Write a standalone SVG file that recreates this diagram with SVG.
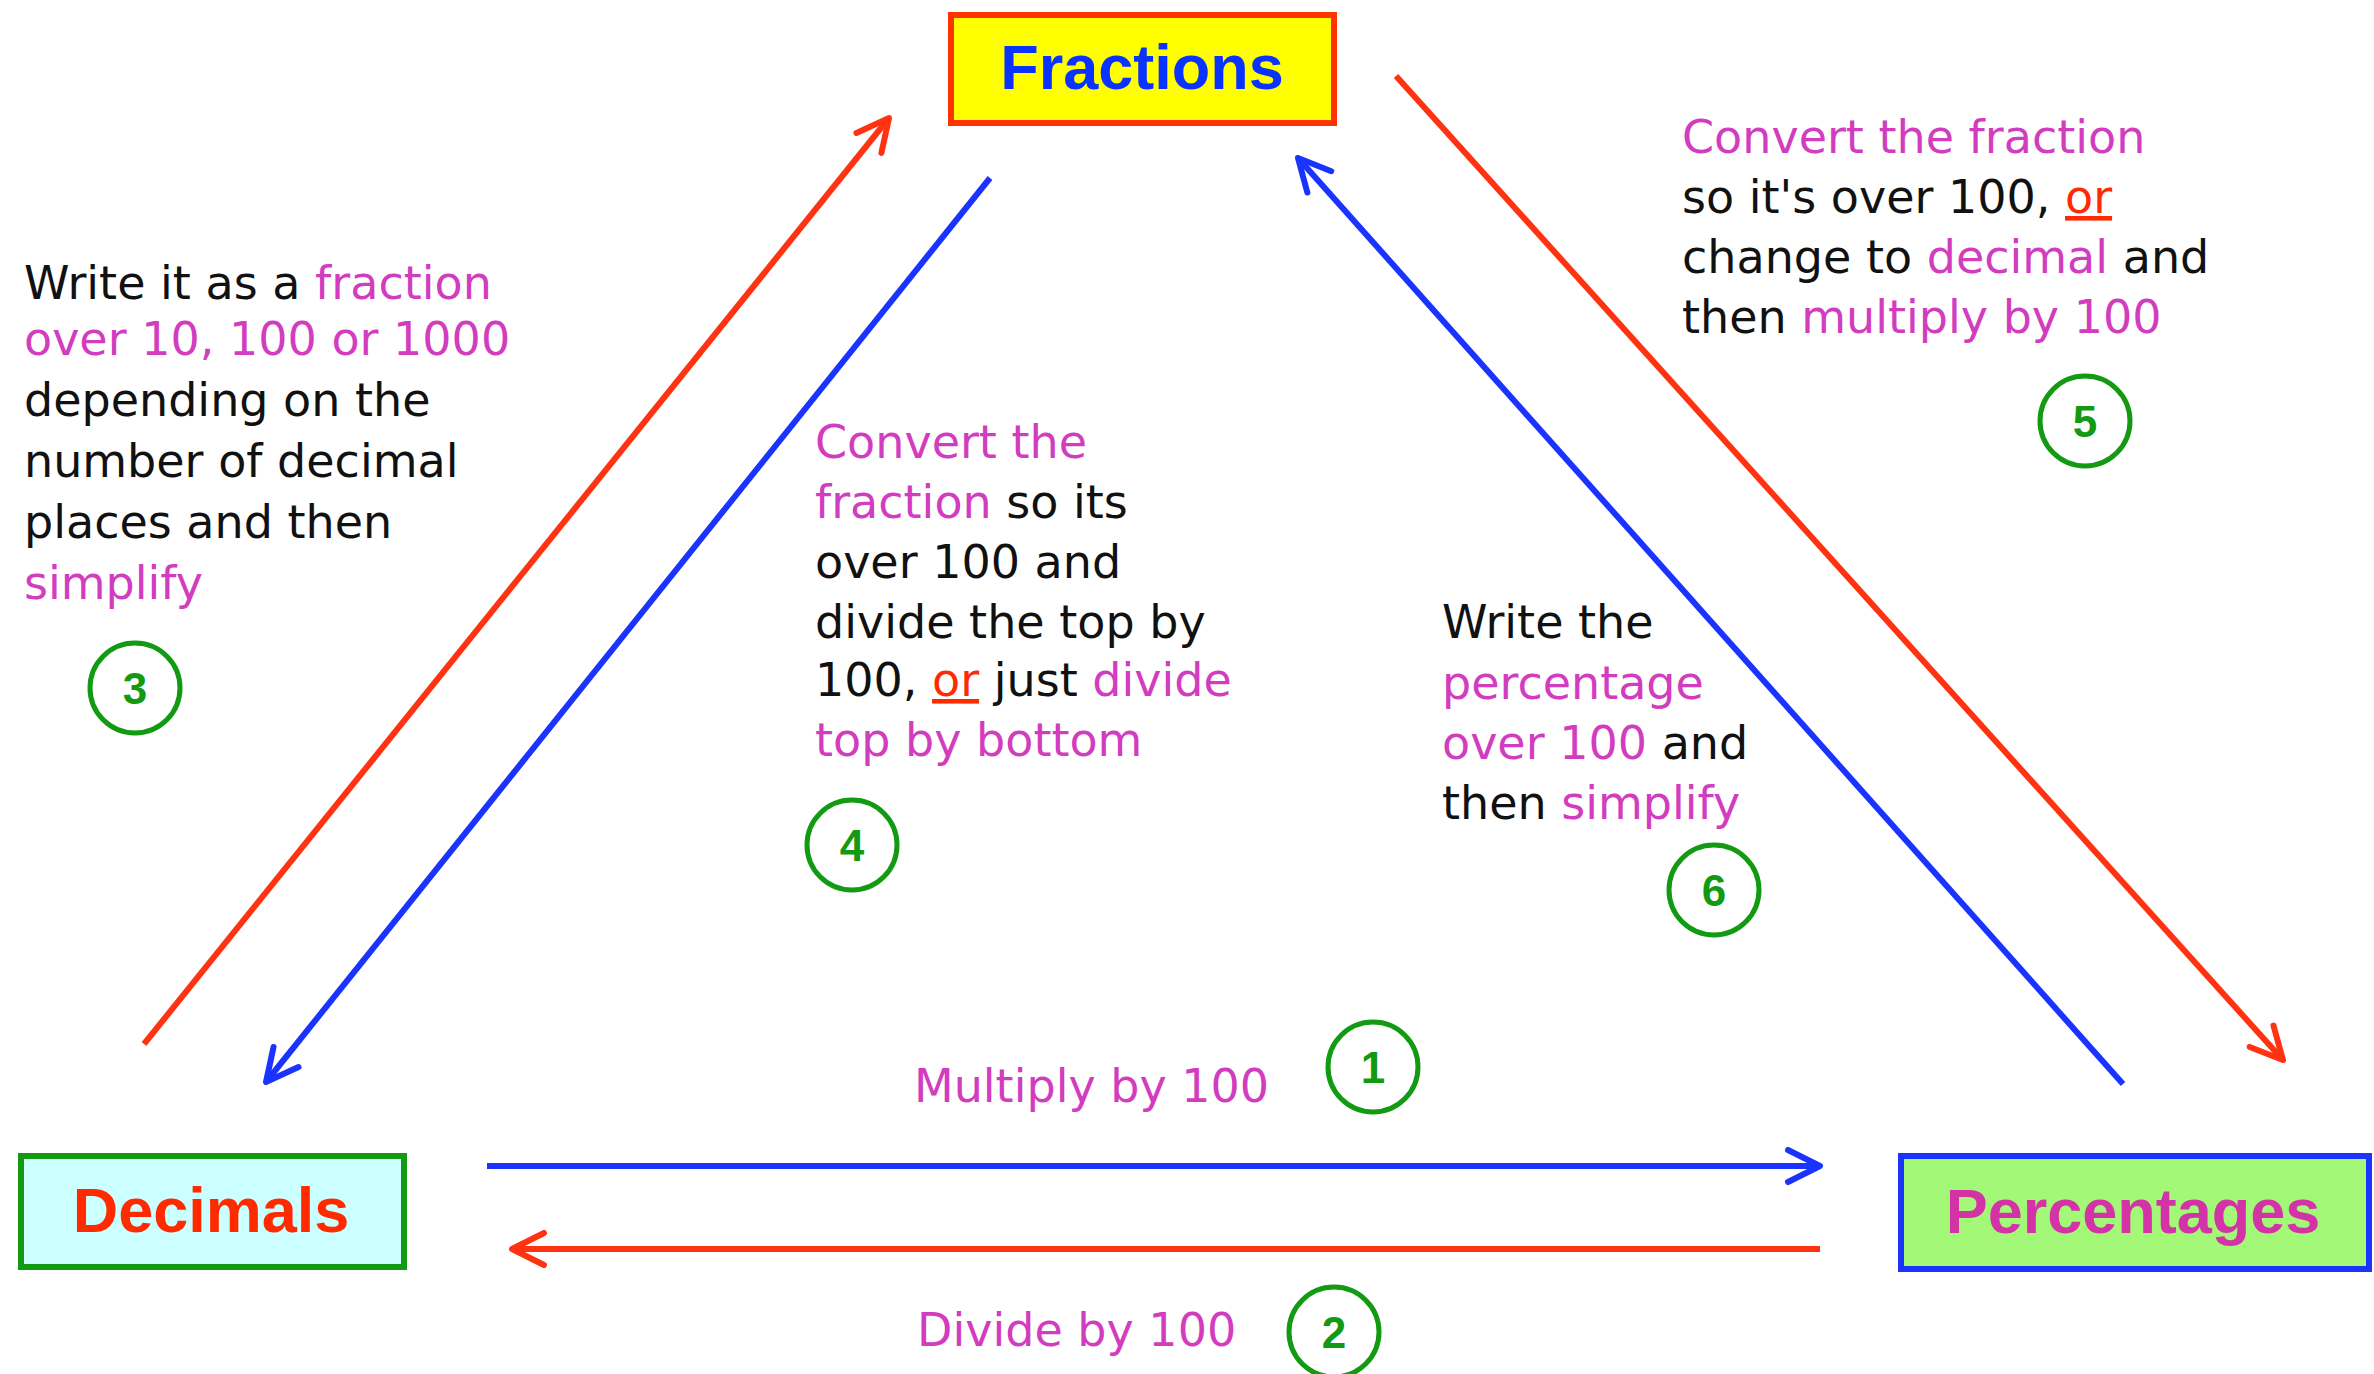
<svg xmlns="http://www.w3.org/2000/svg" width="2374" height="1374" viewBox="0 0 2374 1374">
<style>
.title{font-family:"Liberation Sans",Arial,sans-serif;font-weight:bold;font-size:63px;text-anchor:middle}
.body{font-family:"DejaVu Sans","Liberation Sans",sans-serif;font-size:46px;fill:#111111}
.m{fill:#d23cbf}
.k{fill:#111111}
.or{fill:#ff2a00;text-decoration:underline}
.badge circle{fill:none;stroke:#129a12;stroke-width:5}
.badge text{font-family:"Liberation Sans",Arial,sans-serif;font-weight:bold;font-size:44px;fill:#129a12;text-anchor:middle}
.red{stroke:#ff3311;stroke-width:6;fill:none}
.blue{stroke:#1a33ff;stroke-width:6;fill:none}
</style>
<defs>
<marker id="ah-red" markerUnits="userSpaceOnUse" orient="auto" refX="0" refY="0" markerWidth="80" markerHeight="80" viewBox="-40 -40 80 80" overflow="visible">
<path d="M-32,-16 L0,0 L-32,16" fill="none" stroke="#ff3311" stroke-width="6" stroke-linecap="round" stroke-linejoin="round"/>
</marker>
<marker id="ah-blue" markerUnits="userSpaceOnUse" orient="auto" refX="0" refY="0" markerWidth="80" markerHeight="80" viewBox="-40 -40 80 80" overflow="visible">
<path d="M-32,-16 L0,0 L-32,16" fill="none" stroke="#1a33ff" stroke-width="6" stroke-linecap="round" stroke-linejoin="round"/>
</marker>
</defs>
<rect width="2374" height="1374" fill="#ffffff"/>

<g id="connectors">
<line class="red" x1="144" y1="1044" x2="889" y2="118" marker-end="url(#ah-red)"/>
<line class="blue" x1="990" y1="178" x2="266" y2="1082" marker-end="url(#ah-blue)"/>
<line class="blue" x1="2123" y1="1084" x2="1298" y2="158" marker-end="url(#ah-blue)"/>
<line class="red" x1="1396" y1="76" x2="2283" y2="1060" marker-end="url(#ah-red)"/>
<line class="blue" x1="487" y1="1166" x2="1820" y2="1166" marker-end="url(#ah-blue)"/>
<line class="red" x1="1820" y1="1249" x2="512" y2="1249" marker-end="url(#ah-red)"/>
</g>

<g id="fractions">
<rect x="951" y="15" width="383" height="108" fill="#ffff00" stroke="#ff3300" stroke-width="6"/>
<text class="title" x="1142" y="89" fill="#0a33ff">Fractions</text>
</g>
<g id="decimals">
<rect x="21" y="1156" width="383" height="111" fill="#ccffff" stroke="#129a12" stroke-width="6"/>
<text class="title" x="211" y="1232" fill="#ff2a00">Decimals</text>
</g>
<g id="percentages">
<rect x="1901" y="1156" width="468" height="113" fill="#a3f977" stroke="#1a33ff" stroke-width="6"/>
<text class="title" x="2133" y="1233" fill="#d333a6">Percentages</text>
</g>

<g id="label-1">
<text class="body m" x="914" y="1102">Multiply by 100</text>
<g class="badge"><circle cx="1373" cy="1067" r="45"/><text x="1373" y="1083">1</text></g>
</g>
<g id="label-2">
<text class="body m" x="917" y="1346">Divide by 100</text>
<g class="badge"><circle cx="1334" cy="1332" r="45"/><text x="1334" y="1348">2</text></g>
</g>
<g id="label-3">
<text class="body"><tspan x="24" y="299">Write it as a <tspan class="m">fraction</tspan></tspan><tspan x="24" y="355" class="m">over 10, 100 or 1000</tspan><tspan x="24" y="416">depending on the</tspan><tspan x="24" y="477">number of decimal</tspan><tspan x="24" y="538">places and then</tspan><tspan x="24" y="599" class="m">simplify</tspan></text>
<g class="badge"><circle cx="135" cy="688" r="45"/><text x="135" y="704">3</text></g>
</g>
<g id="label-4">
<text class="body"><tspan x="815" y="458" class="m">Convert the</tspan><tspan x="815" y="518"><tspan class="m">fraction</tspan> so its</tspan><tspan x="815" y="578">over 100 and</tspan><tspan x="815" y="638">divide the top by</tspan><tspan x="815" y="696">100, <tspan class="or">or</tspan> just <tspan class="m">divide</tspan></tspan><tspan x="815" y="756" class="m">top by bottom</tspan></text>
<g class="badge"><circle cx="852" cy="845" r="45"/><text x="852" y="861">4</text></g>
</g>
<g id="label-5">
<text class="body"><tspan x="1682" y="153" class="m">Convert the fraction</tspan><tspan x="1682" y="213">so it's over 100, <tspan class="or">or</tspan></tspan><tspan x="1682" y="273">change to <tspan class="m">decimal</tspan> and</tspan><tspan x="1682" y="333">then <tspan class="m">multiply by 100</tspan></tspan></text>
<g class="badge"><circle cx="2085" cy="421" r="45"/><text x="2085" y="437">5</text></g>
</g>
<g id="label-6">
<text class="body"><tspan x="1442" y="638">Write the</tspan><tspan x="1442" y="699" class="m">percentage</tspan><tspan x="1442" y="759"><tspan class="m">over 100</tspan> and</tspan><tspan x="1442" y="819">then <tspan class="m">simplify</tspan></tspan></text>
<g class="badge"><circle cx="1714" cy="890" r="45"/><text x="1714" y="906">6</text></g>
</g>
</svg>
